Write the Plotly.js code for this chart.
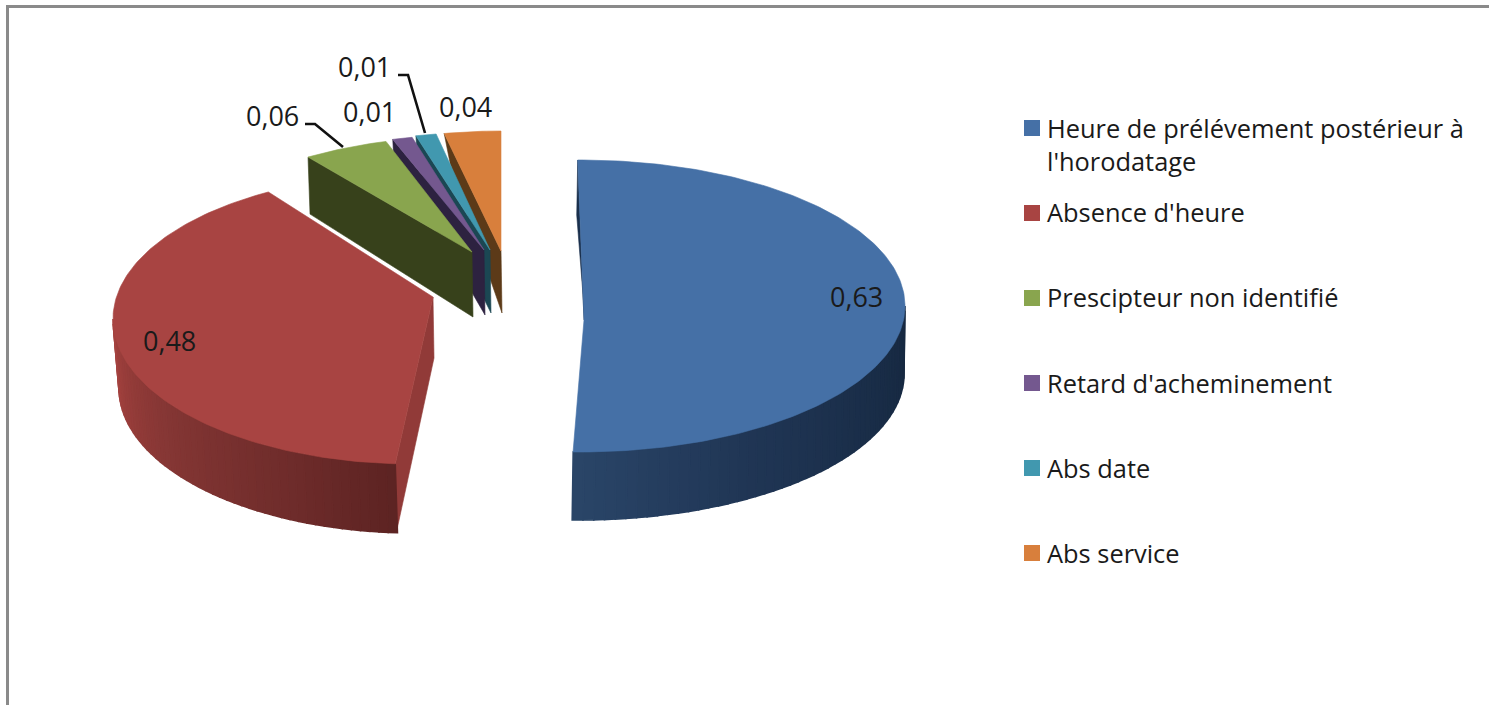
<!DOCTYPE html>
<html>
<head>
<meta charset="utf-8">
<script src="https://cdn.plot.ly/plotly-3.0.1.min.js"></script>
<style>html,body{margin:0;padding:0;background:#fff}</style>
</head>
<body>
<div id="chart" style="width:1489px;height:705px"></div>
<script>
const categories = ["Heure de prélévement postérieur à<br>l'horodatage", "Absence d'heure", "Prescipteur non identifié", "Retard d'acheminement", "Abs date", "Abs service"];
const values = [0.63, 0.48, 0.06, 0.01, 0.01, 0.04];
const topColors = ["#4570a6", "#a84442", "#89a54e", "#74588f", "#4198af", "#d87f3c"];
const wallColors = ["#1a2f4c", "#913a38", "#37411b", "#2d2240", "#1b4753", "#5c3a18"];

const FONT = "Open Sans, sans-serif";
const LABEL_SIZE = 27, LEGEND_SIZE = 25.4;

// Projection of each exploded slice onto the page (pseudo-3D disc).
const geometry = [
  {ax:584, ay:320, cx:580, cy:306, rx:325, ry:146, k:0.985, s:-0.4, depth:68, bdx:-1, brx:325, apexDrop:0, outerDrop:55, outerDx:-1,
   front:[90,181.2], stops:[[90,"#162840"],[120,"#1a2e49"],[150,"#203655"],[181.2,"#2a4568"]]},
  {ax:433, ay:297, cx:413, cy:319, rx:300, ry:145, k:1.052, s:-10.6, depth:69, bdx:2, brx:296, apexDrop:61, outerDrop:69, outerDx:1,
   front:[183.4,270], stops:[[183,"#5c2322"],[205,"#6f2c2b"],[235,"#843634"],[270,"#a5423f"]]},
  {ax:472, ay:252, cx:472, cy:252, rx:285, ry:116, k:1, s:0, apexDrop:65, outerDrop:57, outerDx:2},
  {ax:484, ay:250, cx:484, cy:250, rx:303, ry:116, k:1.3, s:-102.7, apexDrop:65, outerDrop:18, outerDx:1},
  {ax:490, ay:250, cx:490, cy:250, rx:294, ry:118, k:1.38, s:-131.2, apexDrop:63, outerDrop:30, outerDx:2},
  {ax:501, ay:251, cx:501, cy:251, rx:280, ry:120, k:1, s:0, apexDrop:62, outerDrop:30, outerDx:6}
];

const labelPos = [[856,296],[169,340],[272,115],[369,111],[364,66],[465,106]];
const leaders = [null,null,[[305,124],[315,124],[343,147]],null,[[398,75],[408,75],[425,133]],null];
const legendSwatchX = 1032, legendTextX = 1046;
const legendSwatchY = [128, 213, 298, 383, 468, 553];
const legendTextY = [144, 211.5, 296.5, 382.5, 467.5, 552.5];

const total = values.reduce((a,b)=>a+b,0);
const rad = d => d*Math.PI/180;
const fmt = v => v.toFixed(2).replace('.',',');
let acc = 0;
const angles = values.map(v => { const a = [acc/total*360, (acc+v)/total*360]; acc += v; return a; });

function lerpHex(a,b,t){
  const p=h=>[1,3,5].map(i=>parseInt(h.substr(i,2),16));
  const A=p(a),B=p(b);
  return 'rgb('+A.map((x,i)=>Math.round(x+(B[i]-x)*t)).join(',')+')';
}
function stopColor(stops,phi){
  for(let i=0;i<stops.length-1;i++){
    if(phi<=stops[i+1][0]){ return lerpHex(stops[i][1],stops[i+1][1],Math.max(0,(phi-stops[i][0])/(stops[i+1][0]-stops[i][0]))); }
  }
  return stops[stops.length-1][1];
}
function poly(xs,ys,color,w){
  return {type:'scatter',mode:'lines',x:xs,y:ys,fill:'toself',fillcolor:color,
          line:{color:color,width:w||0.6},hoverinfo:'skip',showlegend:false};
}
const traces = [];
const order = [1,5,4,3,2,0];
order.forEach(i=>{
  const g = geometry[i], [t0,t1] = angles[i];
  const ptTop = phi => [g.cx+g.rx*Math.sin(rad(phi)), g.cy-g.ry*Math.cos(rad(phi))];
  const phi0 = t0*g.k+g.s, phi1 = t1*g.k+g.s;
  // flat cut wall
  const p = ptTop(phi0), dx = g.outerDx||0;
  traces.push(poly([g.ax,p[0],p[0]+dx,g.ax+1,g.ax],[g.ay,p[1],p[1]+g.outerDrop,g.ay+g.apexDrop,g.ay],wallColors[i]));
  // curved outer wall, shaded in small steps
  if(g.front){
    const N=48, a=g.front[0], b=g.front[1];
    for(let n=0;n<N;n++){
      const p0=a+(b-a)*n/N, p1=a+(b-a)*(n+1)/N;
      const A=ptTop(p0),B=ptTop(p1);
      const bot=phi=>[g.cx+g.bdx+g.brx*Math.sin(rad(phi)), g.cy+g.depth-g.ry*Math.cos(rad(phi))];
      const C=bot(p1),D=bot(p0);
      traces.push(poly([A[0],B[0],C[0],D[0],A[0]],[A[1],B[1],C[1],D[1],A[1]],stopColor(g.stops,(p0+p1)/2),1.6));
    }
  }
  // top face
  const xs=[g.ax], ys=[g.ay], M=Math.max(6,Math.round(phi1-phi0));
  for(let n=0;n<=M;n++){ const q=ptTop(phi0+(phi1-phi0)*n/M); xs.push(q[0]); ys.push(q[1]); }
  xs.push(g.ax); ys.push(g.ay);
  traces.push(poly(xs,ys,topColors[i]));
});

// leader lines
leaders.forEach(l=>{ if(l) traces.push({type:'scatter',mode:'lines',x:l.map(p=>p[0]),y:l.map(p=>p[1]),
  line:{color:'#111',width:2.6},hoverinfo:'skip',showlegend:false}); });

// legend swatches
categories.forEach((c,i)=>{
  traces.push({type:'scatter',mode:'markers',x:[legendSwatchX],y:[legendSwatchY[i]],name:c,showlegend:false,
    marker:{symbol:'square',size:16,color:topColors[i],line:{width:0}},hoverinfo:'name'});
});

const annotations = values.map((v,i)=>({xref:'x',yref:'y',x:labelPos[i][0],y:labelPos[i][1],text:fmt(v),
  showarrow:false,font:{family:FONT,size:LABEL_SIZE,color:'#1a1a1a'},xanchor:'center',yanchor:'middle'}));
categories.forEach((c,i)=>annotations.push({xref:'x',yref:'y',x:legendTextX,y:legendTextY[i],text:c,align:'left',
  showarrow:false,font:{family:FONT,size:LEGEND_SIZE,color:'#1a1a1a'},xanchor:'left',yanchor:'middle',borderpad:0}));

const layout = {
  width:1489,height:705,autosize:false,margin:{l:0,r:0,t:0,b:0},
  paper_bgcolor:'#fff',plot_bgcolor:'#fff',
  xaxis:{range:[0,1489],visible:false,fixedrange:true},
  yaxis:{range:[705,0],visible:false,fixedrange:true},
  showlegend:false,annotations:annotations,
  shapes:[
    {type:'line',xref:'paper',yref:'paper',x0:7.5/1489,x1:7.5/1489,y0:0,y1:1-5/705,line:{color:'#8a8a8a',width:3}},
    {type:'line',xref:'paper',yref:'paper',x0:6/1489,x1:1,y0:1-6.5/705,y1:1-6.5/705,line:{color:'#8a8a8a',width:3}}
  ]
};

Plotly.newPlot('chart',traces,layout,{displayModeBar:false});
</script>
</body>
</html>
